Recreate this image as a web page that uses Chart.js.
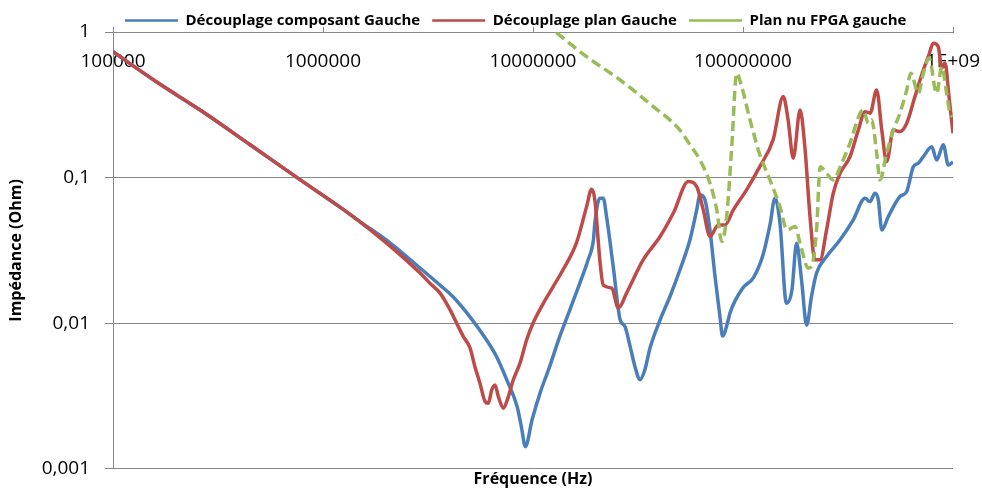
<!DOCTYPE html>
<html lang="fr">
<head>
<meta charset="utf-8">
<title>Impédance du découplage</title>
<script src="https://cdn.jsdelivr.net/npm/chart.js@4.4.1/dist/chart.umd.min.js"></script>
<style>
  html, body { margin: 0; padding: 0; background: #ffffff; }
  #wrap { width: 982px; height: 489px; }
</style>
</head>
<body>
<div id="wrap"><canvas id="chart" width="982" height="489"></canvas></div>
<script>
// Axis ticks (decades) and their printed labels
const xTickValues = [1e5, 1e6, 1e7, 1e8, 1e9];
const xTickLabels = ['100000', '1000000', '10000000', '100000000', '1E+09'];
const yTickValues = [0.001, 0.01, 0.1, 1];
const yTickLabels = ['0,001', '0,01', '0,1', '1'];

const seriesNames = ['Découplage composant Gauche', 'Découplage plan Gauche', 'Plan nu FPGA gauche'];

// Découplage composant Gauche : fréquence (Hz) / impédance (Ohm)
const freqComposant = [
  1e5, 1.67e5, 2.6e5, 4.5e5, 7.8e5, 1.2e6, 1.5e6, 2.1e6, 2.9e6, 3.6e6,
  4.16e6, 5.0e6, 6.0e6, 6.7e6, 7.5e6, 8.4e6, 8.8e6, 9.2e6, 9.9e6, 1.08e7,
  1.2e7, 1.34e7, 1.5e7, 1.67e7, 1.83e7, 1.94e7, 1.97e7, 2.08e7, 2.16e7, 2.24e7,
  2.41e7, 2.6e7, 2.74e7, 2.9e7, 3.06e7, 3.23e7, 3.41e7, 3.61e7, 4.03e7, 4.49e7,
  5.01e7, 5.59e7, 6.02e7, 6.24e7, 6.59e7, 6.96e7, 7.36e7, 7.77e7, 7.99e7, 8.51e7,
  8.67e7, 1.0e8, 1.12e8, 1.245e8, 1.344e8, 1.42e8, 1.5e8, 1.61e8, 1.71e8, 1.8e8,
  1.9e8, 2.01e8, 2.12e8, 2.24e8, 2.5e8, 2.9e8, 3.35e8, 3.81e8, 4.03e8, 4.25e8,
  4.41e8, 4.58e8, 4.92e8, 5.59e8, 6.02e8, 6.47e8, 6.84e8, 7.22e8, 7.92e8, 8.36e8,
  8.99e8, 9.5e8, 1e9
];
const zComposant = [
  0.732, 0.439, 0.291, 0.168, 0.0964, 0.0629, 0.0499, 0.0354, 0.0239, 0.0183,
  0.0152, 0.0111, 0.00769, 0.0059, 0.00408, 0.00268, 0.00195, 0.00142, 0.00217, 0.00331,
  0.00503, 0.00809, 0.0124, 0.0188, 0.0273, 0.0374, 0.0487, 0.0722, 0.0722, 0.054,
  0.0245, 0.01055, 0.00949, 0.00693, 0.00503, 0.00409, 0.00479, 0.00678, 0.01055, 0.01525,
  0.0233, 0.0374, 0.060, 0.0761, 0.0703, 0.0437, 0.0209, 0.01105, 0.00816, 0.01055,
  0.01175, 0.0175, 0.0205, 0.0294, 0.0473, 0.0722, 0.0487, 0.0137, 0.0169, 0.0354,
  0.0198, 0.0097, 0.0153, 0.0221, 0.0287, 0.0374, 0.0513, 0.0722, 0.0684, 0.0781,
  0.0703, 0.0437, 0.054, 0.0741, 0.0802, 0.1185, 0.1255, 0.139, 0.163, 0.132,
  0.168, 0.122, 0.128
];

// Découplage plan Gauche
const freqPlan = [
  1e5, 1.67e5, 2.6e5, 4.5e5, 7.8e5, 1.2e6, 1.5e6, 2.1e6, 2.9e6, 3.23e6,
  3.61e6, 4.03e6, 4.33e6, 4.66e6, 5.01e6, 5.29e6, 5.59e6, 5.91e6, 6.13e6, 6.36e6,
  6.59e6, 6.84e6, 7.22e6, 7.63e6, 8.06e6, 8.67e6, 9.33e6, 1.0e7, 1.12e7, 1.25e7,
  1.39e7, 1.61e7, 1.8e7, 1.9e7, 1.97e7, 2.08e7, 2.16e7, 2.37e7, 2.55e7, 2.79e7,
  3.35e7, 4.03e7, 4.66e7, 5.49e7, 6.02e7, 6.47e7, 6.96e7, 7.63e7, 8.21e7, 8.99e7,
  1.04e8, 1.2e8, 1.39e8, 1.555e8, 1.64e8, 1.735e8, 1.87e8, 1.97e8, 2.085e8, 2.2e8,
  2.33e8, 2.5e8, 2.69e8, 2.9e8, 3.23e8, 3.54e8, 3.81e8, 4.03e8, 4.33e8, 4.58e8,
  4.83e8, 5.2e8, 5.59e8, 6.02e8, 6.59e8, 7.22e8, 7.63e8, 8.06e8, 8.51e8, 8.84e8,
  9.16e8, 9.57e8, 1e9
];
const zPlan = [
  0.732, 0.439, 0.291, 0.168, 0.0964, 0.0629, 0.0497, 0.0336, 0.0221, 0.0188,
  0.0161, 0.01235, 0.0100, 0.00809, 0.00678, 0.00503, 0.00387, 0.0029, 0.00282, 0.00348,
  0.00377, 0.00313, 0.00261, 0.00313, 0.00409, 0.00531, 0.00769, 0.0100, 0.0137, 0.0179,
  0.0233, 0.0356, 0.0632, 0.0832, 0.0703, 0.0273, 0.0183, 0.0174, 0.0127, 0.0161,
  0.0273, 0.0394, 0.0571, 0.0939, 0.0868, 0.060, 0.0394, 0.0473, 0.0473, 0.060,
  0.0824, 0.1185, 0.181, 0.360, 0.249, 0.136, 0.291, 0.163, 0.054, 0.0273,
  0.0273, 0.0437, 0.0781, 0.107, 0.139, 0.212, 0.283, 0.277, 0.400, 0.212,
  0.1285, 0.212, 0.207, 0.236, 0.360, 0.548, 0.677, 0.836, 0.793, 0.566,
  0.612, 0.360, 0.2015
];

// Plan nu FPGA gauche
const freqFpga = [
  1.0e7, 1.25e7, 1.8e7, 2.6e7, 3.74e7, 5.01e7, 5.59e7, 6.24e7, 6.96e7, 7.5e7,
  7.92e7, 8.36e7, 8.84e7, 9.33e7, 9.86e7, 1.08e8, 1.205e8, 1.344e8, 1.5e8, 1.62e8,
  1.77e8, 1.87e8, 2.045e8, 2.12e8, 2.24e8, 2.33e8, 2.5e8, 2.69e8, 2.95e8, 3.23e8,
  3.61e8, 3.74e8, 3.95e8, 4.1e8, 4.33e8, 4.49e8, 4.83e8, 5.2e8, 5.59e8, 6.02e8,
  6.3e8, 6.84e8, 7.22e8, 7.69e8, 8.36e8, 8.84e8, 9.33e8, 9.68e8, 1e9
];
const zFpga = [
  1.33, 1.03, 0.677, 0.468, 0.3075, 0.212, 0.168, 0.132, 0.0915, 0.060,
  0.0364, 0.054, 0.163, 0.521, 0.421, 0.249, 0.1425, 0.0964, 0.0629, 0.0437,
  0.0461, 0.0354, 0.0239, 0.0245, 0.0437, 0.1185, 0.107, 0.0964, 0.1255, 0.172,
  0.277, 0.291, 0.236, 0.249, 0.147, 0.0964, 0.147, 0.212, 0.277, 0.400,
  0.521, 0.379, 0.521, 0.663, 0.379, 0.5775, 0.379, 0.277, 0.262
];

const toPoints = (fs, zs) => fs.map((f, i) => ({ x: f, y: zs[i] }));

const FAMILY = '"Open Sans", Lato, "Liberation Sans", sans-serif';
const GRID = '#878787';

new Chart(document.getElementById('chart'), {
  type: 'line',
  data: {
    datasets: [
      { label: seriesNames[0], data: toPoints(freqComposant, zComposant),
        borderColor: '#4a7ebb', backgroundColor: '#4a7ebb', order: 3 },
      { label: seriesNames[1], data: toPoints(freqPlan, zPlan),
        borderColor: '#be4b48', backgroundColor: '#be4b48', order: 2 },
      { label: seriesNames[2], data: toPoints(freqFpga, zFpga),
        borderColor: '#9bbb59', backgroundColor: '#9bbb59', borderDash: [10, 5], order: 1 }
    ]
  },
  options: {
    responsive: false,
    animation: false,
    events: [],
    layout: { padding: { top: 1, right: 29, bottom: 0, left: 0 } },
    elements: {
      point: { radius: 0 },
      line: { borderWidth: 3.5, cubicInterpolationMode: 'monotone', fill: false }
    },
    scales: {
      x: {
        type: 'logarithmic',
        position: { y: 1 },
        min: 1e5,
        max: 1e9,
        afterBuildTicks: (s) => { s.ticks = xTickValues.map(v => ({ value: v })); },
        afterFit: (s) => { s.height = 0; s.paddingLeft = 0; s.paddingRight = 0; },
        ticks: {
          autoSkip: false, maxRotation: 0, padding: 24, color: '#000',
          font: { family: FAMILY, size: 19 },
          callback: (v, i) => xTickLabels[i]
        },
        grid: { drawOnChartArea: false, tickLength: -6, color: GRID },
        border: { color: GRID }
      },
      y: {
        type: 'logarithmic',
        position: 'left',
        min: 0.001,
        max: 1,
        afterBuildTicks: (s) => { s.ticks = yTickValues.map(v => ({ value: v })); },
        afterFit: (s) => { s.width = 113; s.paddingTop = 0; s.paddingBottom = 0; },
        ticks: {
          padding: 15, color: '#000',
          font: { family: FAMILY, size: 19 },
          callback: (v, i) => yTickLabels[i]
        },
        grid: { color: GRID, tickLength: 8 },
        border: { color: GRID },
        title: {
          display: true, text: 'Impédance (Ohm)', color: '#000',
          font: { family: FAMILY, size: 16, weight: 'bold' },
          padding: { top: 7, bottom: 0 }
        }
      }
    },
    plugins: {
      legend: {
        position: 'top',
        align: 'start',
        fullSize: false,
        maxHeight: 31,
        labels: {
          usePointStyle: true,
          pointStyle: 'line',
          pointStyleWidth: 53,
          padding: 12,
          color: '#000',
          font: { family: FAMILY, size: 15, weight: 'bold' },
          sort: (a, b) => a.datasetIndex - b.datasetIndex,
          generateLabels: (chart) => {
            const items = Chart.defaults.plugins.legend.labels.generateLabels(chart);
            items.forEach(it => {
              it.lineWidth = 2.5;
              if (it.lineDash && it.lineDash.length) it.lineDash = [5, 2.5];
            });
            return items;
          }
        }
      },
      title: {
        display: true,
        position: 'bottom',
        fullSize: false,
        text: 'Fréquence (Hz)',
        color: '#000',
        font: { family: FAMILY, size: 16, weight: 'bold' },
        padding: { top: 1, bottom: 0 }
      },
      tooltip: { enabled: false }
    }
  }
});
</script>
</body>
</html>
